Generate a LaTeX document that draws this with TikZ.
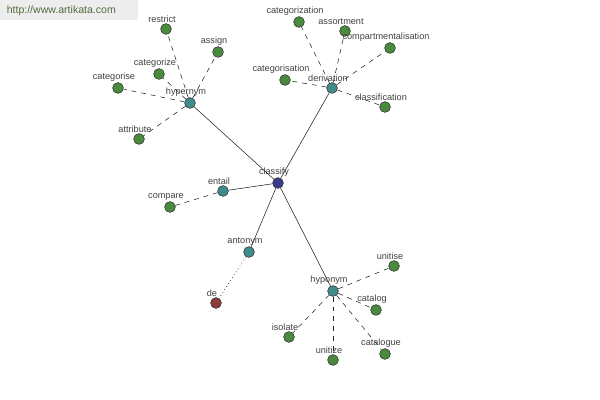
\documentclass[tikz,border=0pt]{standalone}
\usepackage{fontspec}
\setmainfont{Liberation Sans}
\usepackage{xcolor}
\usetikzlibrary{positioning}

\definecolor{leafgreen}{HTML}{4A8A3E}
\definecolor{relteal}{HTML}{3F8C8C}
\definecolor{rootblue}{HTML}{3B3B8E}
\definecolor{antred}{HTML}{8E3B3B}
\definecolor{marktext}{HTML}{4E6E3A}

\begin{document}
\begin{tikzpicture}[
    x=0.025cm, y=-0.025cm,
    dot/.style={circle, draw=black!80, line width=0.4pt, inner sep=0pt, minimum size=0.27cm},
    leaf/.style={dot, fill=leafgreen},
    rel/.style={dot, fill=relteal},
    root/.style={dot, fill=rootblue},
    ant/.style={dot, fill=antred},
    lbl/.style={font=\fontsize{6.5}{7}\selectfont, text=black!75, inner sep=1pt, xshift=-0.1cm},
    every label/.style={lbl},
    label distance=-0.5pt,
    solidedge/.style={line width=0.4pt, black!85},
    dashedge/.style={line width=0.4pt, black!85, dash pattern=on 3.5pt off 3.5pt},
    dotedge/.style={line width=0.5pt, black!85, dotted}
]
    \useasboundingbox (0,0) rectangle (600,400);

    % watermark
    \node[fill=black!7, minimum width=3.45cm, minimum height=0.5cm, anchor=north west,
          inner sep=0pt, font=\fontsize{7.5}{8}\selectfont, text=marktext] (mark) at (0,0) {\hspace*{-0.4cm}http://www.artikata.com};

    % centre and relations
    \node[root, label=above:classify] (classify) at (278,183) {};
    \node[rel, label=above:hypernym] (hypernym) at (190,103) {};
    \node[rel, label=above:derivation] (derivation) at (332,88) {};
    \node[rel, label=above:entail] (entail) at (223,191) {};
    \node[rel, label=above:antonym] (antonym) at (249,252) {};
    \node[rel, label=above:hyponym] (hyponym) at (333,291) {};

    % hypernym leaves
    \node[leaf, label=above:restrict] (restrict) at (166,29) {};
    \node[leaf, label=above:assign] (assign) at (218,52) {};
    \node[leaf, label=above:categorize] (categorize) at (159,74) {};
    \node[leaf, label=above:categorise] (categorise) at (118,88) {};
    \node[leaf, label=above:attribute] (attribute) at (139,139) {};

    % derivation leaves
    \node[leaf, label=above:categorization] (categorization) at (299,22) {};
    \node[leaf, label=above:assortment] (assortment) at (345,31) {};
    \node[leaf, label=above:compartmentalisation] (compart) at (390,48) {};
    \node[leaf, label=above:categorisation] (categorisation) at (285,80) {};
    \node[leaf, label=above:classification] (classification) at (385,107) {};

    % entail and antonym leaves
    \node[leaf, label=above:compare] (compare) at (170,207) {};
    \node[ant, label=above:de] (de) at (216,303) {};

    % hyponym leaves
    \node[leaf, label=above:unitise] (unitise) at (394,266) {};
    \node[leaf, label=above:catalog] (catalog) at (376,310) {};
    \node[leaf, label=above:catalogue] (catalogue) at (385,354) {};
    \node[leaf, label=above:unitize] (unitize) at (333,360) {};
    \node[leaf, label=above:isolate] (isolate) at (289,337) {};

    % edges
    \foreach \r in {hypernym, derivation, entail, antonym, hyponym}
        \draw[solidedge] (classify) -- (\r);
    \foreach \l in {restrict, assign, categorize, categorise, attribute}
        \draw[dashedge] (hypernym) -- (\l);
    \foreach \l in {categorization, assortment, compart, categorisation, classification}
        \draw[dashedge] (derivation) -- (\l);
    \foreach \l in {unitise, catalog, catalogue, unitize, isolate}
        \draw[dashedge] (hyponym) -- (\l);
    \draw[dashedge] (entail) -- (compare);
    \draw[dotedge] (antonym) -- (de);
\end{tikzpicture}
\end{document}
